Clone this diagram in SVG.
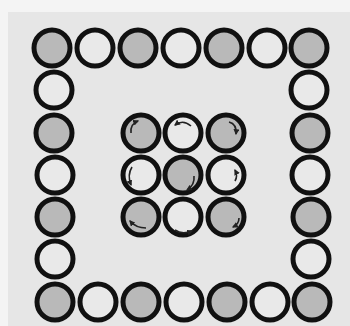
<svg xmlns="http://www.w3.org/2000/svg" width="350" height="326" viewBox="0 0 350 326">
<style>
.ring{stroke:#111;stroke-width:5}
.w{fill:#e9e9e9}
.g{fill:#b9b9b9}
.arr{fill:none;stroke:#222;stroke-width:1.6;marker-end:url(#ah)}
</style>
<defs>
<marker id="ah" viewBox="0 0 10 10" refX="8" refY="5" markerWidth="6" markerHeight="6" markerUnits="userSpaceOnUse" orient="auto">
<path d="M0,0 L10,5 L0,10 z" fill="#222"/>
</marker>
<pattern id="hatch" width="3" height="6" patternUnits="userSpaceOnUse">
<rect width="3" height="6" fill="#bbbbbb"/>
<line x1="1" y1="0" x2="1" y2="4" stroke="#9a9a9a" stroke-width="0.8"/>
</pattern>
</defs>
<rect width="350" height="326" fill="#f4f4f4"/>
<rect x="8" y="12" width="342" height="314" fill="#e6e6e6"/>
<g id="outer-ring" class="ring">
<circle id="t0" cx="52" cy="48" r="18" class="g"/>
<circle id="t1" cx="95" cy="48" r="18" class="w"/>
<circle id="t2" cx="138" cy="48" r="18" class="g"/>
<circle id="t3" cx="181" cy="48" r="18" class="w"/>
<circle id="t4" cx="224" cy="48" r="18" class="g"/>
<circle id="t5" cx="267" cy="48" r="18" class="w"/>
<circle id="t6" cx="309" cy="48" r="18" class="g"/>
<circle id="l1" cx="54" cy="90" r="18" class="w"/>
<circle id="l2" cx="54" cy="133" r="18" class="g"/>
<circle id="l3" cx="55" cy="175" r="18" class="w"/>
<circle id="l4" cx="55" cy="217" r="18" class="g"/>
<circle id="l5" cx="55" cy="259" r="18" class="w"/>
<circle id="r1" cx="309" cy="90" r="18" class="w"/>
<circle id="r2" cx="310" cy="133" r="18" class="g"/>
<circle id="r3" cx="310" cy="175" r="18" class="w"/>
<circle id="r4" cx="311" cy="217" r="18" class="g"/>
<circle id="r5" cx="311" cy="259" r="18" class="w"/>
<circle id="b0" cx="55" cy="302" r="18" class="g"/>
<circle id="b1" cx="98" cy="302" r="18" class="w"/>
<circle id="b2" cx="141" cy="302" r="18" class="g"/>
<circle id="b3" cx="184" cy="302" r="18" class="w"/>
<circle id="b4" cx="227" cy="302" r="18" class="g"/>
<circle id="b5" cx="270" cy="302" r="18" class="w"/>
<circle id="b6" cx="312" cy="302" r="18" class="g"/>
</g>
<g id="inner-grid" class="ring">
<circle id="i00" cx="141" cy="133" r="18" class="g"/>
<circle id="i01" cx="183" cy="133" r="18" class="w"/>
<circle id="i02" cx="226" cy="133" r="18" class="g"/>
<circle id="i10" cx="141" cy="175" r="18" class="w"/>
<circle id="i11" cx="183" cy="175" r="18" class="g"/>
<circle id="i12" cx="226" cy="175" r="18" class="w"/>
<circle id="i20" cx="141" cy="217" r="18" class="g"/>
<circle id="i21" cx="183" cy="217" r="18" class="w"/>
<circle id="i22" cx="226" cy="217" r="18" class="g"/>
</g>
<g id="connectors">
<path class="arr" d="M131,133 Q130,124 138,121"/>
<path class="arr" d="M191,126 Q183,119 175,125"/>
<path class="arr" d="M229,122 Q237,124 236,134"/>
<path class="arr" d="M132,167 Q127,175 131,185"/>
<path class="arr" d="M194,176 Q195,185 187,190"/>
<path class="arr" d="M235,181 Q238,176 235,170"/>
<path class="arr" d="M146,228 Q136,228 130,221"/>
<path class="arr" d="M175,230 Q182,235 192,231"/>
<path class="arr" d="M239,218 Q239,224 233,227"/>
</g>
</svg>
